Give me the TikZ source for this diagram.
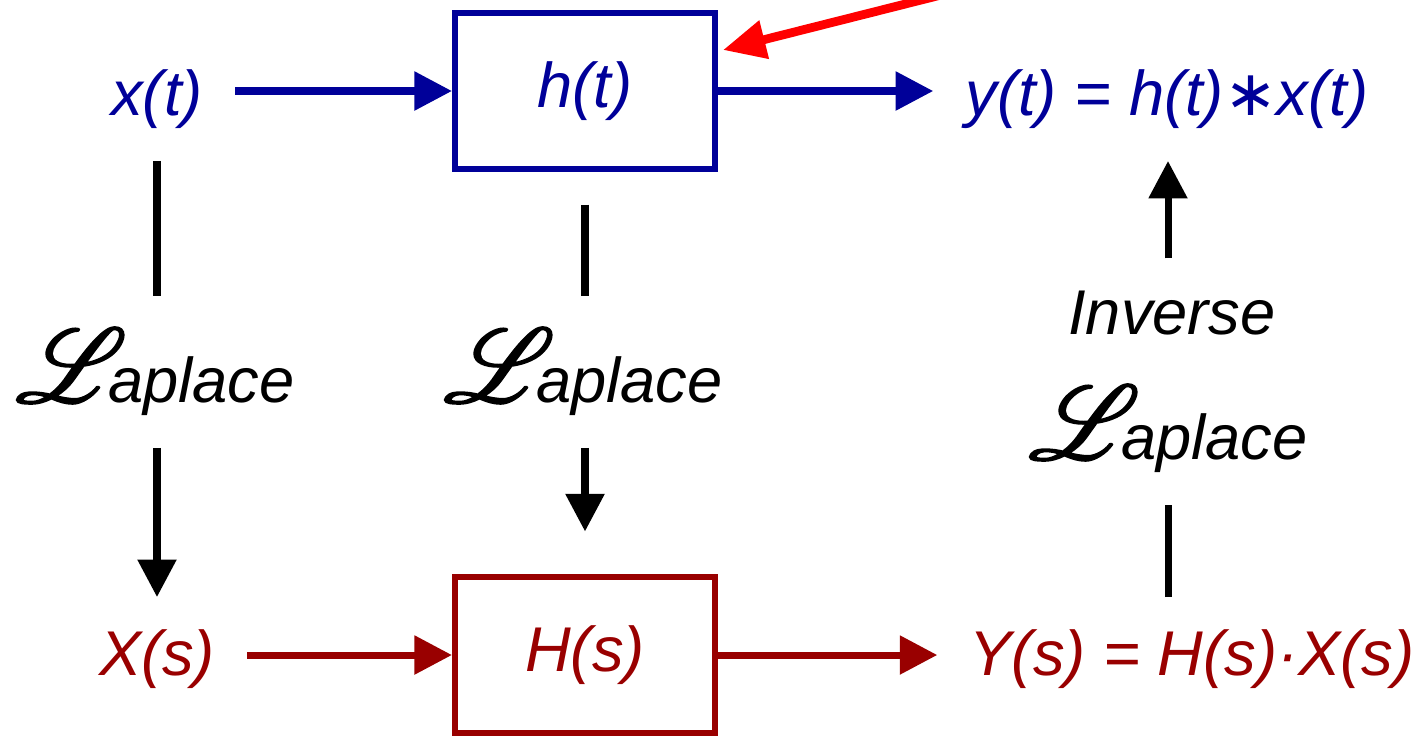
\documentclass[tikz,border=0pt]{standalone}
\usepackage{fontspec}
\setmainfont{Liberation Sans}
\newfontfamily\symfont{DejaVu Sans}
\usepackage{mathrsfs}
\usetikzlibrary{arrows.meta,positioning}
\definecolor{cblue}{HTML}{000099}
\definecolor{cred}{HTML}{990000}
\definecolor{cpoint}{HTML}{FF0000}
\newcommand{\Lap}{\scalebox{2.4}{\special{pdf:literal direct 2 Tr 0.4 w}$\mathscr{L}$\special{pdf:literal direct 0 Tr}}\kern-0.3em aplace}

\begin{document}
\begin{tikzpicture}[x=0.02cm, y=-0.02cm,
    every node/.style={font=\fontsize{36}{40}\selectfont\itshape},
    term/.style={inner sep=0pt, outer sep=0.65cm},
    block/.style={draw, line width=3.5pt, minimum width=5.2cm, minimum height=3.12cm},
    flow/.style={line width=4pt, -{Triangle[length=0.75cm,width=0.75cm]}},
    rule/.style={line width=4pt},
    pointer/.style={cpoint, line width=5pt, -{Triangle[length=0.85cm,width=0.75cm]}}]
  \useasboundingbox (0,0) rectangle (1425,738);

  % time domain
  \node[term, text=cblue] (xt) at (157,99) {x(t)};
  \node[block, draw=cblue, text=cblue] (ht) at (585,91) {h(t)};
  \node[term, text=cblue] (yt) at (1167,99) {y(t) = h(t){\symfont\upshape ∗}x(t)};

  % s domain
  \node[term, text=cred] (Xs) at (157,659) {X(s)};
  \node[block, draw=cred, text=cred] (Hs) at (585,655) {H(s)};
  \node[term, text=cred] (Ys) at (1192,659) {Y(s) = H(s)·X(s)};

  % transforms
  \node[term] (lapA) at (155,372) {\Lap};
  \node[term] (lapB) at (583,372) {\Lap};
  \node[term] (lapC) at (1168,429) {\Lap};
  \node[term] (inv) at (1172,313) {Inverse};

  \draw[flow, cblue] (xt.east |- ht) -- (ht);
  \draw[flow, cblue] (ht) -- (ht -| yt.west);
  \draw[flow, cred] (Xs.east |- Hs) -- (Hs);
  \draw[flow, cred] (Hs) -- (Hs -| Ys.west);

  \draw[rule] (xt.south) -- (xt.south |- lapA.north);
  \draw[flow] (lapA.south -| xt) -- (xt |- Xs.north);
  \draw[rule, shorten <=0.65cm] (ht.south) -- (ht.south |- lapB.north);
  \draw[flow, shorten >=0.85cm] (lapB.south -| ht) -- (ht |- Hs.north);
  \draw[rule] (Ys.north -| lapC) -- (lapC.south);
  \draw[flow] (inv.north -| lapC) -- (lapC |- yt.south);

  \coordinate (note) at (945,-6);
  \coordinate (mark) at (723,50);
  \draw[pointer] (note) -- (mark);
\end{tikzpicture}
\end{document}
